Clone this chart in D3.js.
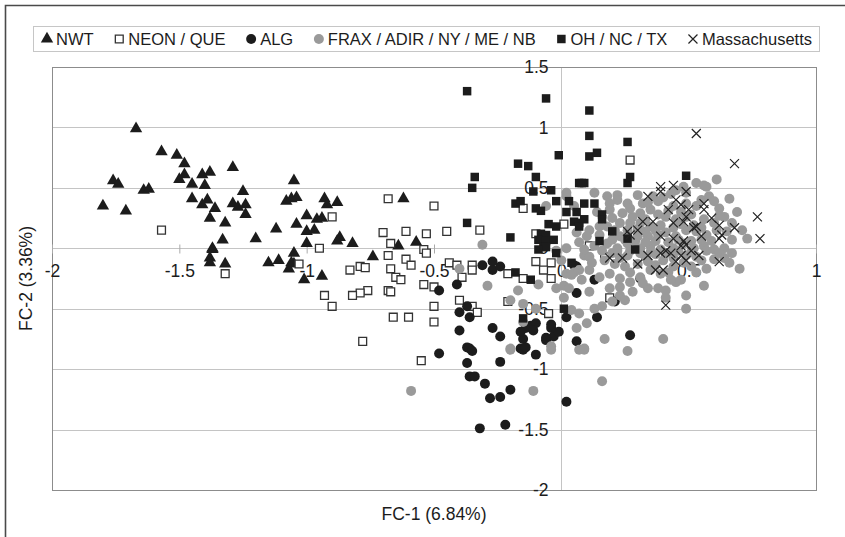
<!DOCTYPE html>
<html>
<head>
<meta charset="utf-8">
<script src="https://cdn.jsdelivr.net/npm/d3@7"></script>
<style>
  body { margin: 0; background: #fff; }
  svg { display: block; font-family: "Liberation Sans", Arial, sans-serif; }
</style>
</head>
<body>
<svg id="chart" width="845" height="537"></svg>
<script>
// ---- data (FC-1, FC-2) ----
const nwt = [
  [-1.67,0.99],[-1.57,0.80],[-1.51,0.77],[-1.48,0.70],[-1.48,0.61],[-1.50,0.57],[-1.45,0.53],[-1.41,0.61],
  [-1.38,0.63],[-1.40,0.52],[-1.29,0.67],[-1.76,0.56],[-1.74,0.53],[-1.64,0.48],[-1.62,0.49],[-1.80,0.35],
  [-1.71,0.31],[-1.45,0.41],[-1.41,0.36],[-1.39,0.40],[-1.36,0.33],[-1.38,0.25],[-1.29,0.37],[-1.27,0.34],
  [-1.24,0.36],[-1.25,0.47],[-1.24,0.28],[-1.32,0.21],[-1.33,0.07],[-1.20,0.08],[-1.12,0.16],[-1.08,0.39],
  [-1.06,0.41],[-1.04,0.42],[-1.05,0.56],[-1.04,0.20],[-1.37,0.00],[-1.38,-0.08],[-1.38,-0.12],[-1.37,-0.01],
  [-1.32,-0.13],[-1.15,-0.12],[-1.11,-0.10],[-1.07,-0.17],[-1.05,-0.13],[-1.05,-0.04],[-0.93,0.41],[-0.92,0.36],
  [-0.88,0.38],[-0.62,0.41],[-1.00,0.27],[-0.96,0.24],[-0.94,0.25],[-1.00,0.14],[-0.97,0.15],[-1.00,0.04],
  [-0.87,0.09],[-0.88,0.06],[-0.82,0.04],[-0.64,0.02],[-0.57,0.05],[-1.06,-0.12],[-1.01,-0.26],[-0.94,-0.23],
  [-0.74,-0.07]
];
const neonQue = [
  [-1.57,0.15],[-1.32,-0.21],[-0.68,0.41],[-0.50,0.35],[-0.90,0.26],[-0.70,0.13],[-0.61,0.14],[-0.53,0.12],
  [-0.45,0.14],[-0.32,0.15],[-0.67,0.04],[-0.54,-0.01],[-0.95,0.00],[-0.15,0.33],[0.01,0.20],[-0.10,0.12],
  [0.27,0.73],[0.11,0.02],[-1.03,-0.13],[-0.83,-0.18],[-0.79,-0.15],[-0.77,-0.16],[-0.68,-0.06],[-0.61,-0.09],
  [-0.59,-0.14],[-0.67,-0.17],[-0.65,-0.24],[-0.63,-0.26],[-0.53,-0.04],[-0.44,-0.12],[-0.41,-0.14],[-0.35,-0.14],
  [-0.35,-0.18],[-0.39,-0.24],[-0.54,-0.30],[-0.50,-0.32],[-0.76,-0.35],[-0.79,-0.37],[-0.82,-0.39],[-0.68,-0.35],
  [-0.67,-0.36],[-0.93,-0.39],[-0.90,-0.48],[-0.66,-0.57],[-0.60,-0.57],[-0.50,-0.48],[-0.50,-0.61],[-0.78,-0.77],
  [-0.40,-0.43],[-0.35,-0.48],[-0.33,-0.53],[-0.21,-0.44],[-0.21,-0.21],[-0.15,-0.25],[-0.10,-0.11],[-0.04,-0.12],
  [-0.04,-0.25],[-0.07,-0.18],[-0.05,-0.54],[-0.55,-0.93],[0.17,-0.07],[0.19,-0.41]
];
const alg = [
  [-0.31,-0.14],[-0.27,-0.11],[-0.27,-0.18],[-0.24,-0.15],[-0.41,-0.30],[-0.48,-0.35],[-0.40,-0.53],[-0.36,-0.57],
  [-0.37,-0.48],[-0.40,-0.68],[-0.27,-0.66],[-0.24,-0.73],[-0.37,-0.82],[-0.15,-0.75],[-0.14,-0.66],[-0.12,-0.64],
  [-0.10,-0.62],[-0.06,-0.76],[-0.03,-0.73],[-0.01,-0.69],[0.02,-0.57],[-0.16,-0.83],[-0.04,-0.66],[-0.16,-0.69],
  [-0.11,-0.68],[0.06,-0.77],[0.27,-0.72],[-0.48,-0.87],[-0.36,-0.83],[-0.35,-0.85],[-0.37,-0.95],[-0.24,-0.94],
  [-0.15,-0.84],[-0.14,-0.82],[-0.10,-0.88],[-0.36,-1.06],[-0.34,-1.06],[-0.30,-1.12],[-0.20,-1.17],[-0.28,-1.24],
  [-0.24,-1.23],[0.02,-1.27],[-0.32,-1.49],[-0.22,-1.46],[0.13,-0.26],[0.06,-0.37],[0.05,-0.14],[0.06,-0.15],
  [0.14,-0.57],[0.21,-0.44],[0.31,-0.25],[-0.04,-0.63],[-0.06,-0.74]
];
const frax = [
  [0.61,0.57],[0.57,0.51],[0.53,0.54],[0.56,0.52],[0.48,0.51],[0.45,0.48],[0.66,0.41],[0.62,0.33],
  [0.64,0.26],[0.67,0.21],[0.73,0.08],[0.67,0.07],[0.13,0.46],[0.18,0.43],[0.22,0.44],[0.22,0.40],
  [0.26,0.37],[0.32,0.37],[0.36,0.43],[0.38,0.39],[0.02,0.43],[0.05,0.35],[0.19,0.32],[0.24,0.29],
  [0.31,0.29],[0.35,0.32],[0.44,0.35],[0.49,0.37],[0.53,0.35],[0.55,0.40],[0.58,0.43],[0.60,0.39],
  [0.41,0.26],[0.45,0.24],[0.49,0.26],[0.56,0.24],[0.60,0.21],[0.23,0.21],[0.27,0.21],[0.31,0.21],
  [0.35,0.18],[0.39,0.19],[0.18,0.18],[0.21,0.15],[0.11,0.15],[0.15,0.11],[0.23,0.10],[0.30,0.10],
  [0.34,0.10],[0.38,0.11],[0.41,0.13],[0.45,0.10],[0.49,0.15],[0.53,0.14],[0.57,0.11],[0.61,0.15],
  [0.65,0.14],[0.18,0.04],[0.22,0.00],[0.26,0.04],[0.31,0.00],[0.35,0.02],[0.39,-0.01],[0.44,0.00],
  [0.48,0.04],[0.52,0.00],[0.56,0.02],[0.60,-0.01],[0.64,0.00],[-0.02,-0.02],[0.09,-0.06],[0.11,-0.07],
  [0.22,-0.02],[0.23,-0.08],[0.26,-0.06],[0.31,-0.04],[0.35,-0.03],[0.41,-0.04],[0.44,-0.08],[0.49,-0.06],
  [0.53,-0.07],[0.57,-0.02],[0.62,-0.04],[0.67,-0.04],[0.57,-0.17],[0.70,-0.17],[0.27,-0.20],[0.31,-0.24],
  [0.35,-0.18],[0.39,-0.21],[0.44,-0.15],[0.47,-0.26],[0.53,-0.20],[0.07,-0.18],[0.11,-0.18],[0.15,-0.24],
  [0.19,-0.21],[-0.02,-0.33],[0.01,-0.31],[0.03,-0.33],[0.11,-0.36],[0.19,-0.33],[0.23,-0.32],[0.28,-0.36],
  [0.34,-0.33],[0.38,-0.33],[0.41,-0.35],[0.45,-0.28],[0.49,-0.39],[0.56,-0.31],[0.13,-0.50],[0.16,-0.48],
  [0.20,-0.44],[0.23,-0.39],[0.25,-0.43],[0.41,-0.41],[0.49,-0.50],[0.07,-0.54],[0.04,-0.51],[0.09,-0.83],
  [0.17,-0.75],[0.40,-0.75],[-0.04,-0.81],[-0.20,-0.84],[-0.04,-0.84],[0.07,-0.84],[0.09,-0.84],[-0.59,-1.18],
  [-0.11,-1.18],[0.16,-1.10],[-0.31,0.03],[-0.40,-0.17],[-0.29,-0.31],[-0.17,-0.35],[-0.15,-0.46],[-0.20,-0.83],
  [0.02,0.00],[0.02,-0.21],[0.05,-0.20],[0.02,0.46],[-0.06,0.35],[0.06,0.13],
  [0.14,0.30],[0.20,0.25],[0.28,0.26],[0.33,0.24],[0.38,0.28],[0.42,0.31],[0.47,0.30],[0.51,0.28],
  [0.26,0.15],[0.30,0.16],[0.33,0.14],[0.37,0.15],[0.44,0.17],[0.47,0.20],[0.52,0.19],[0.55,0.17],
  [0.20,0.07],[0.25,0.07],[0.29,0.06],[0.33,0.05],[0.37,0.06],[0.42,0.05],[0.46,0.07],[0.51,0.06],
  [0.55,0.07],[0.59,0.06],[0.13,0.02],[0.16,-0.02],[0.20,-0.04],[0.27,-0.02],[0.33,-0.07],[0.37,-0.05],
  [0.40,-0.10],[0.46,-0.02],[0.51,-0.03],[0.55,-0.10],[0.60,-0.09],[0.64,-0.08],[0.12,-0.12],[0.17,-0.10],
  [0.21,-0.13],[0.25,-0.15],[0.30,-0.13],[0.34,-0.11],[0.37,-0.14],[0.42,-0.20],[0.48,-0.12],[0.51,-0.15],
  [0.23,-0.25],[0.27,-0.28],[0.32,-0.29],[0.43,-0.26],[0.08,-0.26],[0.04,-0.22],[0.00,-0.10],[0.07,0.05],
  [0.10,0.10],[0.09,-0.01],[0.15,0.18],[0.27,0.33],[0.40,0.42],[0.43,0.45],[0.49,0.46],[0.30,0.44],
  [0.69,0.30],[0.71,0.15],[0.62,0.27],[0.66,-0.12],[0.19,0.37],[0.34,0.38],[-0.20,-0.43],[-0.15,-0.61],
  [-0.10,-0.50],[-0.09,-0.30],[0.01,-0.41],[0.10,-0.62],[0.06,-0.66],[0.26,-0.85]
];
const ohNcTx = [
  [-0.37,1.30],[-0.06,1.24],[-0.01,0.77],[-0.17,0.70],[-0.13,0.68],[-0.34,0.59],[-0.35,0.50],[-0.10,0.59],
  [-0.11,0.47],[-0.04,0.48],[-0.18,0.37],[-0.16,0.39],[-0.10,0.33],[-0.08,0.31],[-0.02,0.39],[0.03,0.39],
  [0.02,0.30],[0.06,0.30],[0.07,0.54],[-0.37,0.21],[-0.20,0.09],[-0.05,0.20],[-0.02,0.18],[0.05,0.22],
  [-0.08,0.12],[-0.06,0.11],[-0.09,0.07],[-0.06,0.06],[-0.03,0.07],[-0.07,0.01],[0.11,1.14],[0.11,0.93],
  [0.26,0.88],[0.11,0.76],[0.14,0.79],[0.08,0.54],[0.09,0.54],[0.26,0.54],[0.27,0.59],[0.49,0.60],
  [0.09,0.37],[0.13,0.37],[0.16,0.28],[0.16,0.24],[0.07,0.21],[0.09,0.24],[0.07,0.18],[0.20,0.14],
  [0.15,0.06],[0.26,0.08],[0.29,-0.01],[0.04,-0.12],[0.01,-0.50],[-0.02,-0.04],[-0.18,-0.20],[-0.12,-0.26],
  [-0.06,0.01],[-0.09,-0.01],[-0.15,-0.58]
];
const mass = [
  [0.53,0.95],[0.68,0.70],[0.39,0.51],[0.44,0.52],[0.34,0.43],[0.39,0.47],[0.49,0.47],[0.45,0.40],
  [0.42,0.32],[0.47,0.36],[0.50,0.32],[0.49,0.26],[0.56,0.37],[0.56,0.32],[0.59,0.25],[0.62,0.19],
  [0.63,0.11],[0.62,0.08],[0.68,0.17],[0.77,0.26],[0.78,0.08],[0.32,0.22],[0.36,0.22],[0.44,0.21],
  [0.48,0.22],[0.52,0.17],[0.53,0.18],[0.26,0.14],[0.30,0.15],[0.39,0.10],[0.44,0.08],[0.48,0.06],
  [0.49,0.03],[0.27,0.11],[0.19,-0.08],[0.24,-0.08],[0.30,-0.13],[0.34,-0.06],[0.39,-0.04],[0.41,-0.02],
  [0.37,-0.18],[0.40,-0.18],[0.43,-0.04],[0.45,-0.11],[0.47,-0.06],[0.49,-0.10],[0.51,-0.02],[0.54,-0.06],
  [0.62,-0.11],[0.41,-0.47],[0.55,0.10],[0.47,0.02]
];

const xTicks = [-2, -1.5, -1, -0.5, 0, 0.5, 1];
const yTicks = [-2, -1.5, -1, -0.5, 0, 0.5, 1, 1.5];
const xTitle = "FC-1 (6.84%)";
const yTitle = "FC-2 (3.36%)";

// ---- layout ----
const svg = d3.select("#chart");
const plot = { left: 52, right: 816, top: 67, bottom: 490 };

const x = d3.scaleLinear().domain([-2, 1]).range([plot.left, plot.right]);
const y = d3.scaleLinear().domain([-2, 1.5]).range([plot.bottom, plot.top]);

const ink = "#1c1c1c";
const grey = "#9a9a9a";

// outer frame (only top and left edges show)
svg.append("path")
  .attr("d", "M5.5,537V5.5H845")
  .attr("fill", "none")
  .attr("stroke", "#4a4a4a")
  .attr("stroke-width", 1.6);

// gridlines
svg.append("g")
  .selectAll("line")
  .data(yTicks)
  .join("line")
  .attr("x1", plot.left)
  .attr("x2", plot.right)
  .attr("y1", (d) => Math.round(y(d)) + 0.5)
  .attr("y2", (d) => Math.round(y(d)) + 0.5)
  .attr("stroke", "#c4c4c4");

// y axis line through x = 0
svg.append("line")
  .attr("x1", Math.round(x(0)) + 0.5)
  .attr("x2", Math.round(x(0)) + 0.5)
  .attr("y1", plot.top)
  .attr("y2", plot.bottom)
  .attr("stroke", "#c4c4c4");

// plot border
svg.append("rect")
  .attr("x", plot.left + 0.5)
  .attr("y", plot.top + 0.5)
  .attr("width", plot.right - plot.left)
  .attr("height", plot.bottom - plot.top)
  .attr("fill", "none")
  .attr("stroke", "#8c8c8c");

// x axis (crosses at y = 0)
svg.append("g")
  .attr("transform", `translate(0,${Math.round(y(0)) + 0.5})`)
  .call(d3.axisBottom(x).tickValues(xTicks).tickFormat((d) => String(d)).tickSize(5).tickPadding(11))
  .call((g) => g.select(".domain").remove())
  .call((g) => g.selectAll(".tick line").attr("y1", -4).attr("stroke", "#aaa"))
  .call((g) => g.selectAll(".tick text")
    .attr("font-family", null)
    .attr("font-size", 17.5)
    .attr("fill", ink));

// y axis (crosses at x = 0)
svg.append("g")
  .attr("transform", `translate(${Math.round(x(0)) + 0.5},0)`)
  .call(d3.axisLeft(y).tickValues(yTicks).tickFormat((d) => String(d)).tickSize(0).tickPadding(13))
  .call((g) => g.select(".domain").remove())
  .call((g) => g.selectAll(".tick text")
    .attr("font-family", null)
    .attr("font-size", 17.5)
    .attr("fill", ink));

// axis titles
svg.append("text")
  .attr("x", (plot.left + plot.right) / 2)
  .attr("y", 520)
  .attr("text-anchor", "middle")
  .attr("font-size", 17.5)
  .attr("fill", ink)
  .text(xTitle);

svg.append("text")
  .attr("transform", `translate(32,${(plot.top + plot.bottom) / 2}) rotate(-90)`)
  .attr("text-anchor", "middle")
  .attr("font-size", 17.5)
  .attr("fill", ink)
  .text(yTitle);

// ---- marker styles ----
const crossPath = "M-4.5,-4.5L4.5,4.5M-4.5,4.5L4.5,-4.5";
const series = [
  { name: "NWT", data: nwt, d: d3.symbol(d3.symbolTriangle, 66)(), fill: ink, stroke: "none" },
  { name: "NEON / QUE", data: neonQue, d: d3.symbol(d3.symbolSquare, 62)(), fill: "#fff", stroke: "#333", sw: 1.3 },
  { name: "ALG", data: alg, d: d3.symbol(d3.symbolCircle, 78)(), fill: ink, stroke: "none" },
  { name: "FRAX / ADIR / NY / ME / NB", data: frax, d: d3.symbol(d3.symbolCircle, 78)(), fill: grey, stroke: "none" },
  { name: "OH / NC / TX", data: ohNcTx, d: d3.symbol(d3.symbolSquare, 72)(), fill: ink, stroke: "none" },
  { name: "Massachusetts", data: mass, d: crossPath, fill: "none", stroke: "#222", sw: 1.2 },
];

const marks = svg.append("g");
series.forEach((s) => {
  marks.append("g")
    .selectAll("path")
    .data(s.data)
    .join("path")
    .attr("transform", (p) => `translate(${x(p[0])},${y(p[1])})`)
    .attr("d", s.d)
    .attr("fill", s.fill)
    .attr("stroke", s.stroke)
    .attr("stroke-width", s.sw || 0);
});

// ---- legend ----
const legend = { left: 33, right: 819, top: 26, bottom: 51 };
svg.append("rect")
  .attr("x", legend.left + 0.5)
  .attr("y", legend.top + 0.5)
  .attr("width", legend.right - legend.left)
  .attr("height", legend.bottom - legend.top)
  .attr("fill", "#fff")
  .attr("stroke", "#c6c6c6");

const legendG = svg.append("g");
const items = legendG.selectAll("g").data(series).join("g");
items.append("path")
  .attr("d", (s) => s.d)
  .attr("fill", (s) => s.fill)
  .attr("stroke", (s) => s.stroke)
  .attr("stroke-width", (s) => s.sw || 0);
const labels = items.append("text")
  .attr("x", 9)
  .attr("y", 6)
  .attr("font-size", 16.5)
  .attr("fill", ink)
  .text((s) => s.name);

const widths = labels.nodes().map((n) => 14 + n.getComputedTextLength());
const span = 770;
const gap = (span - d3.sum(widths)) / (series.length - 1);
let cx = 42;
items.attr("transform", (s, i) => {
  const t = `translate(${cx + 5},${39})`;
  cx += widths[i] + gap;
  return t;
});
</script>
</body>
</html>
